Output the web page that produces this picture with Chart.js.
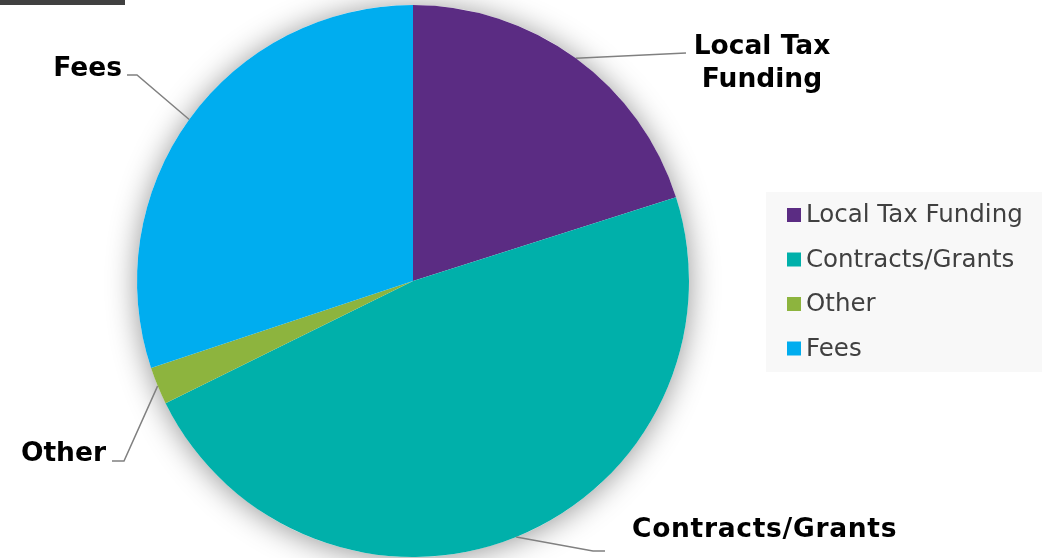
<!DOCTYPE html>
<html>
<head>
<meta charset="utf-8">
<script src="https://cdn.jsdelivr.net/npm/chart.js@4"></script>
<style>
  body { margin: 0; background: #fff; }
  #wrap { width: 1051px; height: 558px; position: relative; }
</style>
</head>
<body>
<div id="wrap"><canvas id="fundingChart"></canvas></div>
<script>
const categories = ['Local Tax Funding', 'Contracts/Grants', 'Other', 'Fees'];
const shares = [20.1, 47.6, 2.2, 30.1];
const sliceColors = ['#5b2c83', '#00b0aa', '#8db43e', '#00adef'];

// where each outside label sits (page pixels) and how it wraps
const labelLayout = [
    { lines: ['Local Tax', 'Funding'], elbow: [686, 53], end: [686, 53], x: 762, y: 54, align: 'center' },
    { lines: ['Contracts/Grants'], elbow: [593, 551], end: [605, 551], x: 632, y: 537, align: 'left', spacing: 0.7 },
    { lines: ['Other'], elbow: [124, 461], end: [112, 461], x: 106, y: 461, align: 'right' },
    { lines: ['Fees'], elbow: [137, 75], end: [127, 75], x: 122, y: 76, align: 'right' }
];

const decor = {
    id: 'decor',
    beforeDatasetsDraw(chart) {
        const ctx = chart.ctx;
        const a = chart.getDatasetMeta(0).data[0];
        // soft shadow behind the whole pie
        ctx.save();
        ctx.shadowColor = 'rgba(0,0,0,0.42)';
        ctx.shadowBlur = 30;
        ctx.shadowOffsetY = 2;
        ctx.fillStyle = '#fff';
        ctx.beginPath();
        ctx.arc(a.x, a.y, a.outerRadius, 0, Math.PI * 2);
        ctx.fill();
        ctx.restore();
    },
    afterDraw(chart) {
        const ctx = chart.ctx;
        ctx.save();

        // dark bar top left
        ctx.fillStyle = '#404040';
        ctx.fillRect(0, 0, 125, 5);

        // leader lines + labels
        chart.getDatasetMeta(0).data.forEach((arc, i) => {
            const p = arc.getProps(['x', 'y', 'startAngle', 'endAngle', 'outerRadius'], true);
            const mid = (p.startAngle + p.endAngle) / 2;
            const sx = p.x + Math.cos(mid) * p.outerRadius;
            const sy = p.y + Math.sin(mid) * p.outerRadius;
            const L = labelLayout[i];
            ctx.strokeStyle = '#808080';
            ctx.lineWidth = 1.5;
            ctx.beginPath();
            ctx.moveTo(sx, sy);
            ctx.lineTo(L.elbow[0], L.elbow[1]);
            ctx.lineTo(L.end[0], L.end[1]);
            ctx.stroke();

            ctx.fillStyle = '#000';
            ctx.font = 'bold 26.5px "DejaVu Sans"';
            ctx.letterSpacing = (L.spacing || 0) + 'px';
            ctx.textAlign = L.align;
            ctx.textBaseline = 'alphabetic';
            L.lines.forEach((t, k) => ctx.fillText(t, L.x, L.y + k * 32.5));
        });
        ctx.letterSpacing = '0px';

        // legend box
        ctx.fillStyle = '#f8f8f8';
        ctx.fillRect(766, 192, 276, 180);
        ctx.font = '24.5px "DejaVu Sans"';
        ctx.textAlign = 'left';
        ctx.textBaseline = 'middle';
        categories.forEach((c, i) => {
            const cy = 215 + i * 44.5;
            ctx.fillStyle = sliceColors[i];
            ctx.fillRect(787, cy - 7, 14, 14);
            ctx.fillStyle = '#404040';
            ctx.fillText(c, 806, cy + 1);
        });
        ctx.restore();
    }
};

const ctx = document.getElementById('fundingChart').getContext('2d');
const fundingChart = new Chart(ctx, {
    type: 'pie',
    data: {
        labels: categories,
        datasets: [{
            data: shares,
            backgroundColor: sliceColors,
            borderWidth: 0
        }]
    },
    options: {
        responsive: true,
        maintainAspectRatio: false,
        animation: false,
        layout: { padding: { left: 137, right: 362, top: 5, bottom: 1 } },
        plugins: {
            legend: { display: false },
            tooltip: { enabled: false }
        }
    },
    plugins: [decor]
});
</script>
</body>
</html>
